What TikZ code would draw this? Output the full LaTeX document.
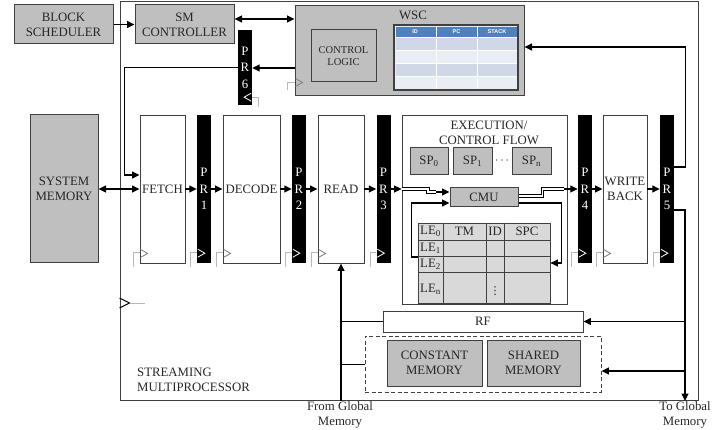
\documentclass[tikz,border=0pt]{standalone}
\usepackage{fontspec}
\setmainfont{Liberation Serif}
\setsansfont{Liberation Sans}
\newfontfamily\symfont{DejaVu Sans}
\usepackage{xcolor}
\usetikzlibrary{arrows.meta}
\usetikzlibrary{positioning, calc}

\definecolor{boxgray}{RGB}{191,191,191}
\definecolor{legray}{RGB}{217,217,217}
\definecolor{edgegray}{RGB}{64,64,64}
\definecolor{wscblue}{RGB}{79,129,189}
\definecolor{wscrowa}{RGB}{208,216,232}
\definecolor{wscrowb}{RGB}{233,237,244}

\tikzset{
    every node/.style={font=\fontsize{12.8}{15}\selectfont, text=black!85, inner sep=0pt, align=center},
    unit/.style={draw=edgegray, line width=1pt, fill=boxgray},
    stage/.style={draw=edgegray, line width=0.9pt, fill=white, minimum height=148pt},
    preg/.style={fill=black, minimum width=14pt, minimum height=148pt, text=white, font=\fontsize{12.8}{16.5}\selectfont},
    arr/.style={line width=1.3pt, -{Triangle[length=7.5pt,width=7pt]}},
    biarr/.style={line width=1.3pt, {Triangle[length=7.5pt,width=7pt]}-{Triangle[length=7.5pt,width=7pt]}},
    dbl/.style={line width=1pt, double=white, double distance=1.8pt},
    clkline/.style={gray!55, line width=0.8pt},
    thead/.style={font=\sffamily\bfseries\fontsize{5.5}{6}\selectfont, text=white}
}

\begin{document}
\begin{tikzpicture}[x=1pt, y=-1pt]
    \useasboundingbox (0,0) rectangle (728,430);

    \node[draw=edgegray, line width=1pt, minimum width=578pt, minimum height=398pt] (sm) at (409,201) {};
    \node[unit, minimum width=99pt, minimum height=39pt] (sched) at (63.5,24.5) {BLOCK\\SCHEDULER};
    \node[unit, minimum width=99pt, minimum height=39pt] (smctl) at (184.5,24.5) {SM\\CONTROLLER};

    \node[unit, minimum width=229pt, minimum height=90pt] (wsc) at (409.5,51) {};
    \node (wsclbl) at (413,15) {WSC};
    \node[draw=edgegray, line width=1pt, minimum width=65pt, minimum height=52pt, font=\fontsize{10.5}{12.7}\selectfont] (ctrl) at (343.5,56) {CONTROL\\LOGIC};
    \node[draw=edgegray, line width=1.2pt, fill=wscrowb, minimum width=124pt, minimum height=65pt] (wsctab) at (456,57.5) {};
    \foreach \y/\col in {37/wscrowa, 50/wscrowb, 63/wscrowa, 76/wscrowb}
        \fill[\col] (396,\y) rectangle (517,\y+13);
    \fill[wscblue] (396,27) rectangle (517,37);
    \foreach \y in {37,50,63,76}
        \draw[white, line width=0.8pt] (396,\y) -- (517,\y);
    \foreach \x in {436,477}
        \draw[white, line width=1pt] (\x,27) -- (\x,89);
    \node[thead] (hid) at (415,32) {ID};
    \node[thead] (hpc) at (456.5,32) {PC};
    \node[thead] (hstack) at (497,32) {STACK};

    \node[preg, minimum height=75pt] (pr6) at (245,67.5) {P\\R\\6};

    \node[unit, minimum width=68pt, minimum height=148pt] (sysmem) at (64,189) {SYSTEM\\MEMORY};
    \node[stage, minimum width=45pt] (fetch) at (162.5,189) {FETCH};
    \node[preg] (pr1) at (204,189) {P\\R\\1};
    \node[stage, minimum width=57pt] (decode) at (251.5,189) {DECODE};
    \node[preg] (pr2) at (299,189) {P\\R\\2};
    \node[stage, minimum width=46pt] (read) at (341,189) {READ};
    \node[preg] (pr3) at (383.5,189) {P\\R\\3};
    \node[draw=edgegray, line width=0.8pt, minimum width=165pt, minimum height=189pt] (exec) at (484.5,209.5) {};
    \node[preg] (pr4) at (585,189) {P\\R\\4};
    \node[stage, minimum width=44pt] (wb) at (625,189) {WRITE\\BACK};
    \node[preg] (pr5) at (667,189) {P\\R\\5};

    \node (execlbl) at (489,132.5) {EXECUTION/\\CONTROL FLOW};
    \node[unit, minimum width=38pt, minimum height=27pt] (sp0) at (429,161.5) {SP\textsubscript{0}};
    \node[unit, minimum width=39pt, minimum height=27pt] (sp1) at (472.5,161.5) {SP\textsubscript{1}};
    \node (spdots) at (502,161) {$\cdots$};
    \node[unit, minimum width=39pt, minimum height=27pt] (spn) at (531.5,161.5) {SP\textsubscript{n}};
    \node[unit, minimum width=68pt, minimum height=19pt] (cmu) at (484,197.5) {CMU};

    \node[draw=edgegray, line width=0.8pt, fill=legray, minimum width=132pt, minimum height=80pt] (letab) at (484,263) {};
    \foreach \x in {443,486,504}
        \draw[edgegray, line width=0.8pt] (\x,223) -- (\x,303);
    \foreach \y in {240,256,272}
        \draw[edgegray, line width=0.8pt] (418,\y) -- (550,\y);
    \node (le0) at (430.5,231.5) {LE\textsubscript{0}};
    \node (tm) at (464.5,231.5) {TM};
    \node (idcol) at (495,231.5) {ID};
    \node (spc) at (527,231.5) {SPC};
    \node (le1) at (430.5,248) {LE\textsubscript{1}};
    \node (le2) at (430.5,264) {LE\textsubscript{2}};
    \node (len) at (430.5,289) {LE\textsubscript{n}};
    \node[font=\symfont\fontsize{11}{12}\selectfont] (vdots) at (495,291) {⋮};

    \node[draw=edgegray, line width=0.9pt, fill=white, minimum width=200pt, minimum height=21pt] (rf) at (483,321.5) {RF};
    \node[draw=edgegray, line width=0.9pt, dash pattern=on 4pt off 2.5pt, minimum width=236pt, minimum height=56pt] (grp) at (483,364) {};
    \node[unit, minimum width=95pt, minimum height=46pt] (const) at (434.5,363) {CONSTANT\\MEMORY};
    \node[unit, minimum width=93pt, minimum height=46pt] (shared) at (533.5,363) {SHARED\\MEMORY};

    \node[anchor=west, align=left] (smlbl) at (137,379.5) {STREAMING\\MULTIPROCESSOR};
    \node[anchor=north] (fromgm) at (340,401) {From Global\\Memory};
    \node[anchor=north] (togm) at (685,401) {To Global\\Memory};

    \draw[arr] (sched) -- (smctl);
    \draw[biarr] ([yshift=5.5pt]smctl.east) -- ([yshift=5.5pt]smctl.east -| wsc.west);
    \draw[arr] ([yshift=-17pt]wsc.west) -- ([yshift=-17pt]wsc.west -| pr6.east);
    \draw[arr] (pr6.west) -| ([xshift=-15pt,yshift=14pt]fetch.west) -- ([yshift=14pt]fetch.west);

    \draw[biarr] (sysmem) -- (fetch);
    \foreach \a/\b in {fetch/pr1, pr1/decode, decode/pr2, pr2/read, read/pr3, pr4/wb, wb/pr5}
        \draw[arr] (\a) -- (\b);
    \draw[arr] (pr3.east) -- (pr3.east -| exec.west);

    \draw[dbl] (pr3.east -| exec.west) -- ++(26,0) |- ([xshift=-14pt,yshift=5.5pt]cmu.west);
    \draw[arr] ([xshift=-14pt,yshift=5.5pt]cmu.west) -- ([yshift=5.5pt]cmu.west);
    \draw[dbl] ([yshift=1.5pt]cmu.east) -- ++(24,0) |- ([xshift=-14pt]pr4.west);
    \draw[arr] ([xshift=-14pt]pr4.west) -- (pr4.west);
    \draw[arr] ([yshift=6pt]letab.west) -| ([xshift=-38pt,yshift=-5.5pt]cmu.west) -- ([yshift=-5.5pt]cmu.west);
    \draw[arr] ([yshift=-5.5pt]cmu.east) -| ([xshift=11pt]letab.east) -- (letab.east);

    \draw[arr] ([yshift=22pt]pr5.east) -| ([xshift=11pt,yshift=4pt]wsc.east -| pr5.east) -- ([yshift=4pt]wsc.east);
    \draw[arr] ([yshift=-21pt]pr5.east) -| (togm.north);
    \draw[arr] (togm.north |- rf.east) -- (rf.east);
    \draw[arr] ([yshift=-7pt]togm.north |- grp.east) -- ([yshift=-7pt]grp.east);

    \draw[arr] (read.south |- fromgm.north) -- (read.south);
    \draw[line width=1pt] (read.south |- rf.west) -- (rf.west);
    \draw[line width=1pt] (read.south |- grp.west) -- (grp.west);

    \foreach \n/\col in {fetch/gray, pr1/white, decode/gray, pr2/white, read/gray, pr3/white, pr4/white, wb/gray, pr5/white} {
        \draw[clkline] ([xshift=-6pt,yshift=-4pt]\n.south west) |- ([yshift=11pt]\n.south west);
        \draw[\col, line width=0.8pt] ([xshift=1pt,yshift=14pt]\n.south west) -- ([xshift=8pt,yshift=10pt]\n.south west) -- ([xshift=1pt,yshift=6pt]\n.south west);
    }
    \draw[clkline] ([yshift=8pt]pr6.south east) -- ++(6,0) -- ++(0,10);
    \draw[white, line width=0.8pt] ([xshift=-1pt,yshift=12pt]pr6.south east) -- ([xshift=-8pt,yshift=8pt]pr6.south east) -- ([xshift=-1pt,yshift=4pt]pr6.south east);
    \draw[clkline] ([xshift=-7pt,yshift=6pt]wsc.south west) |- ([yshift=14pt]wsc.south west);
    \draw[gray, line width=0.8pt] ([xshift=1pt,yshift=18pt]wsc.south west) -- ([xshift=8pt,yshift=14pt]wsc.south west) -- ([xshift=1pt,yshift=10pt]wsc.south west);

    \coordinate (smclk) at ([yshift=-102pt]sm.west);
    \draw[black, line width=0.9pt] ([yshift=5pt]smclk) -- ([xshift=10pt]smclk) -- ([yshift=-5pt]smclk);
    \draw[clkline] ([xshift=10pt]smclk) -- ++(15,0);
\end{tikzpicture}
\end{document}
